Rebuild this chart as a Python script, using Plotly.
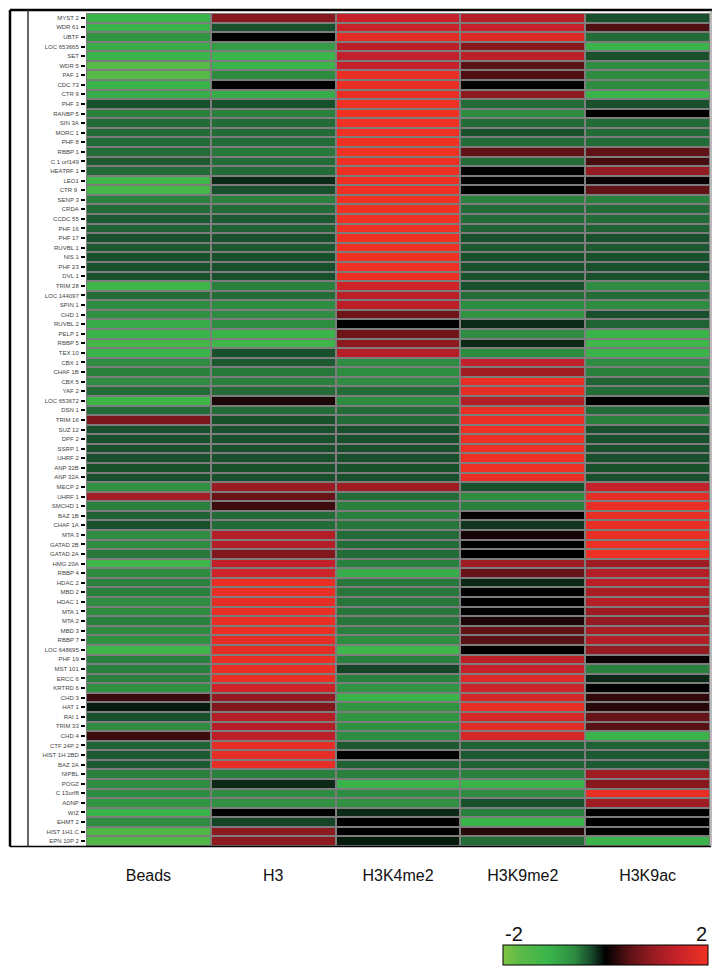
import plotly.graph_objects as go

columns = ["Beads", "H3", "H3K4me2", "H3K9me2", "H3K9ac"]

genes = [
    "MYST 2", "WDR 61", "UBTF", "LOC 653665", "SET", "WDR 5", "PAF 1", "CDC 73",
    "CTR 9", "PHF 3", "RANBP 5", "SIN 3A", "MORC 1", "PHF 8", "RBBP 1", "C 1 orf149",
    "HEATRF 1", "LEO1", "CTR 9 ", "SENP 3", "CRDA", "CCDC 55", "PHF 16", "PHF 17",
    "RUVBL 1", "NIS 1", "PHF 23", "DVL 1", "TRIM 28", "LOC 144097", "SPIN 1", "CHD 1",
    "RUVBL 2", "PELP 1", "RBBP 5", "TEX 10", "CBX 1", "CHAF 1B", "CBX 5", "YAF 2",
    "LOC 653672", "DSN 1", "TRIM 16", "SUZ 12", "DPF 2", "SSRP 1", "UHRF 2", "ANP 32B",
    "ANP 32A", "MECP 2", "UHRF 1", "SMCHD 1", "BAZ 1B", "CHAF 1A", "MTA 3", "GATAD 2B",
    "GATAD 2A", "HMG 20A", "RBBP 4", "HDAC 2", "MBD 2", "HDAC 1", "MTA 1", "MTA 2",
    "MBD 3", "RBBP 7", "LOC 648695", "PHF 19", "MST 101", "ERCC 6", "KRTRD 6", "CHD 3",
    "HAT 1", "RAI 1", "TRIM 33", "CHD 4", "CTF 24P 2", "HIST 1H 2BD", "BAZ 2A", "NIPBL",
    "POGZ", "C 13orf8", "ADNP", "WIZ", "EHMT 2", "HIST 1H1 C", "EPN 10P 2",
]

beads = [
    -1.1, -1.1, -0.7, -1.0, -1.1, -1.6, -1.6, -1.1, -1.0, -0.3, -0.55, -0.45, -0.45, -0.45, -0.45, -0.35,
    -0.45, -1.2, -1.3, -0.55, -0.45, -0.35, -0.4, -0.3, -0.35, -0.3, -0.3, -0.3, -1.2, -0.45, -0.6, -0.65,
    -1.0, -1.1, -1.3, -1.1, -0.6, -0.55, -0.6, -0.45, -1.2, -0.45, 0.7, -0.3, -0.3, -0.3, -0.3, -0.3,
    -0.3, -0.65, 1.05, -0.55, -0.4, -0.3, -0.6, -0.6, -0.5, -1.2, -0.6, -0.55, -0.55, -0.6, -0.6, -0.55,
    -0.6, -0.65, -1.2, -0.55, -0.55, -0.55, -0.65, 0.3, -0.1, -0.3, -0.6, 0.3, -0.4, -0.35, -0.35, -0.55,
    -0.6, -0.6, -0.7, -1.1, -0.6, -1.5, -1.5,
]
h3 = [
    0.8, -0.3, 0.0, -0.8, -1.1, -1.1, -0.6, 0.0, -1.0, -0.3, -0.55, -0.45, -0.45, -0.45, -0.5, -0.45,
    -0.45, -0.15, -0.3, -0.55, -0.45, -0.35, -0.4, -0.3, -0.35, -0.3, -0.3, -0.3, -0.55, -0.45, -0.6, -0.6,
    -0.6, -1.1, -1.2, -0.3, -0.35, -0.5, -0.55, -0.45, 0.15, -0.45, -0.3, -0.3, -0.3, -0.3, -0.3, -0.3,
    -0.3, 0.95, 0.55, 0.3, -0.45, -0.45, 1.2, 1.2, 0.75, 1.35, 1.5, 1.9, 1.9, 1.85, 1.9, 1.9,
    1.9, 1.85, 1.8, 1.9, 1.9, 1.9, 1.5, 0.9, 0.75, 1.2, 1.2, 1.3, 1.85, 1.85, 1.85, -0.55,
    -0.15, -0.6, -0.65, 0.0, -0.25, 0.85, 0.85,
]
h3k4me2 = [
    1.4, 1.45, 1.8, 1.3, 1.35, 1.4, 1.9, 1.9, 1.9, 2.0, 2.0, 2.0, 2.0, 2.0, 2.0, 1.95,
    1.95, 1.95, 1.95, 2.0, 2.0, 2.0, 2.0, 2.0, 2.0, 2.0, 2.0, 1.95, 1.5, 1.3, 1.3, 0.6,
    0.0, 0.6, 0.85, 1.2, -0.6, -0.6, -0.6, -0.45, -0.6, -0.45, -0.45, -0.3, -0.3, -0.3, -0.3, -0.3,
    -0.3, 1.0, -0.45, -0.55, -0.55, -0.5, -0.45, -0.45, -0.45, -0.55, -1.0, -0.5, -0.5, -0.5, -0.5, -0.5,
    -0.55, -0.6, -1.2, -0.55, -0.25, -0.55, -0.7, -1.1, -0.7, -0.7, -0.65, -0.6, -0.35, 0.0, -0.4, -0.55,
    -1.1, -0.6, -0.65, -0.15, 0.0, 0.0, -0.1,
]
h3k9me2 = [
    1.2, 1.4, 1.7, 0.8, 1.3, 0.45, 0.4, 0.02, 0.85, -0.45, -0.6, -0.45, -0.3, -0.45, 0.5, -0.45,
    0.0, 0.0, 0.0, -0.55, -0.45, -0.45, -0.4, -0.3, -0.35, -0.3, -0.3, -0.3, -0.3, -0.45, -0.6, -0.7,
    -0.15, -0.6, -0.15, -0.6, 1.35, 1.0, 1.9, 1.85, 1.2, 1.9, 1.9, 1.95, 1.95, 1.95, 1.95, 1.95,
    1.9, -0.3, -0.6, -0.55, 0.03, -0.2, 0.1, 0.0, 0.0, 1.0, 0.55, -0.15, 0.0, 0.0, 0.0, 0.15,
    0.5, 0.45, 0.0, 1.3, 1.4, 1.7, 1.5, 1.6, 1.9, 1.6, 1.8, 1.6, -0.4, -0.35, -0.4, -0.55,
    -1.1, -0.6, -0.3, -0.55, -1.1, 0.2, -0.45,
]
h3k9ac = [
    -0.3, 0.4, -0.45, -1.1, -0.3, -0.6, -0.6, -0.6, -1.1, -0.3, 0.0, -0.45, -0.45, -0.45, 0.5, 0.35,
    0.9, 0.05, 0.5, -0.55, -0.45, -0.45, -0.4, -0.3, -0.35, -0.3, -0.3, -0.3, -0.6, -0.45, -0.6, -0.3,
    -0.4, -1.1, -1.2, -1.1, -0.6, -0.55, -0.4, -0.45, 0.0, -0.45, -0.55, -0.3, -0.3, -0.3, -0.3, -0.3,
    -0.3, 1.4, 1.85, 1.9, 1.9, 1.9, 1.9, 1.95, 1.95, 1.0, 1.2, 1.3, 1.1, 1.2, 0.95, 0.9,
    1.1, 1.2, 0.9, 0.05, -0.55, -0.15, 0.0, 0.25, 0.2, 0.55, 0.45, -1.1, -0.4, -0.35, -0.35, 1.0,
    0.8, 1.9, 1.0, 0.0, 0.0, 0.0, -1.1,
]

series = [beads, h3, h3k4me2, h3k9me2, h3k9ac]
z = [[s[i] for s in series] for i in range(len(genes))]

colorscale = [
    [0.0, "#80c342"], [0.08, "#5cba46"], [0.22, "#3ab54a"], [0.35, "#2e8c41"],
    [0.39, "#226a37"], [0.43, "#174c2b"], [0.5, "#000000"], [0.62, "#5e1216"],
    [0.74, "#9b1c22"], [0.84, "#c3202a"], [1.0, "#f03224"],
]

W, H = 721, 972
L, R, T, B = 86, 11, 13, 126
pw, ph = W - L - R, H - T - B

def px_x(x):
    return (x - L) / pw

def px_y(y):
    return (H - B - y) / ph

fig = go.Figure(go.Heatmap(
    z=z,
    x=list(range(len(columns))),
    y=list(range(len(genes))),
    zmin=-2, zmax=2,
    colorscale=colorscale,
    xgap=2, ygap=2,
    colorbar=dict(
        orientation="h",
        x=px_x(605), xanchor="center",
        y=px_y(945), yanchor="top",
        lenmode="pixels", len=205,
        thicknessmode="pixels", thickness=20,
        xpad=0, ypad=0,
        outlinecolor="black", outlinewidth=1,
        showticklabels=False, ticks="",
    ),
    hoverinfo="skip",
))

fig.update_layout(
    width=W, height=H,
    margin=dict(l=L, r=R, t=T, b=B, autoexpand=False),
    paper_bgcolor="white",
    plot_bgcolor="#7d7d7d",
    font=dict(family="Liberation Sans, Arial, sans-serif", color="black"),
    xaxis=dict(
        tickmode="array", tickvals=list(range(len(columns))), ticktext=columns,
        tickfont=dict(size=16, color="#111"), showgrid=False, zeroline=False,
        ticks="", ticklabelstandoff=18, range=[-0.5, 4.5], fixedrange=True,
        automargin=False,
    ),
    yaxis=dict(
        tickmode="array", tickvals=list(range(len(genes))), ticktext=genes,
        tickfont=dict(size=6, color="#444"), autorange="reversed",
        showgrid=False, zeroline=False, ticks="outside", ticklen=4,
        tickcolor="black", tickwidth=1.5, ticklabelstandoff=1, automargin=False,
    ),
    shapes=[
        dict(type="line", xref="paper", yref="paper", x0=px_x(10), x1=px_x(712),
             y0=px_y(10), y1=px_y(10), line=dict(color="black", width=2.5)),
        dict(type="line", xref="paper", yref="paper", x0=px_x(10), x1=px_x(711),
             y0=px_y(846.5), y1=px_y(846.5), line=dict(color="black", width=1.5)),
        dict(type="line", xref="paper", yref="paper", x0=px_x(10), x1=px_x(10),
             y0=px_y(10), y1=px_y(846.5), line=dict(color="black", width=2.5)),
        dict(type="line", xref="paper", yref="paper", x0=px_x(28), x1=px_x(28),
             y0=px_y(10), y1=px_y(846.5), line=dict(color="#333", width=1.5)),
        dict(type="line", xref="paper", yref="paper", x0=px_x(711), x1=px_x(711),
             y0=px_y(10), y1=px_y(846.5), line=dict(color="#777", width=1)),
    ],
    annotations=[
        dict(text="-2", xref="paper", yref="paper", x=px_x(514), y=px_y(934),
             showarrow=False, font=dict(size=20, color="#111"), xanchor="center", yanchor="middle"),
        dict(text="2", xref="paper", yref="paper", x=px_x(701), y=px_y(934),
             showarrow=False, font=dict(size=20, color="#111"), xanchor="center", yanchor="middle"),
    ],
)

fig.write_html(
    "out.html",
    config={"displayModeBar": False},
    post_script="document.body.style.margin='0';document.body.style.padding='0';",
)
